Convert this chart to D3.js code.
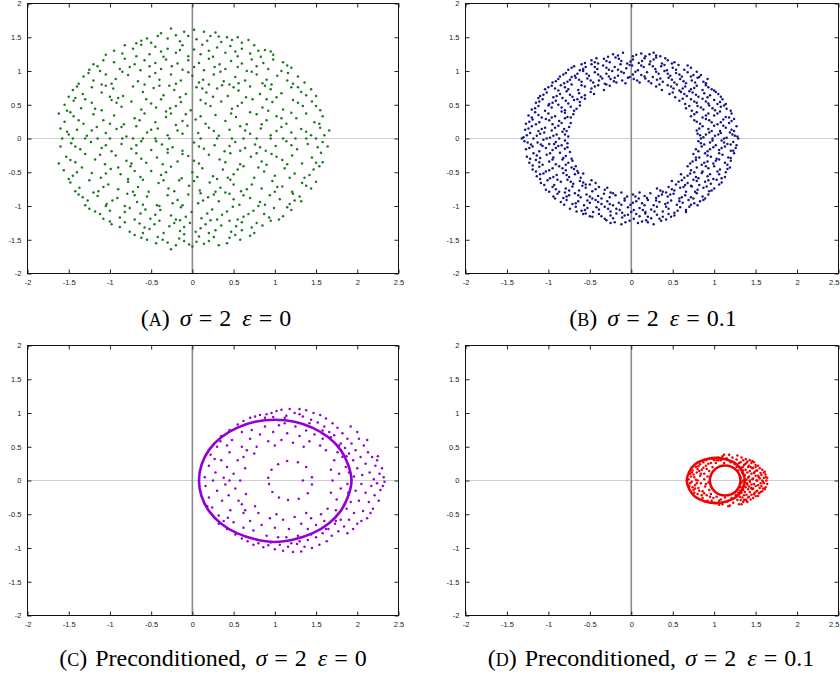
<!DOCTYPE html>
<html>
<head>
<meta charset="utf-8">
<script src="https://cdn.jsdelivr.net/npm/d3@7"></script>
<style>
  body { margin: 0; background: #fff; }
  svg { display: block; }
</style>
</head>
<body>
<svg id="fig" width="840" height="682"></svg>
<script>
// Axis ticks shared by all four panels
const xTickValues = [-2, -1.5, -1, -0.5, 0, 0.5, 1, 1.5, 2, 2.5];
const yTickValues = [-2, -1.5, -1, -0.5, 0, 0.5, 1, 1.5, 2];

// (a) sigma = 2, eps = 0
const dotsA = [
[-0.26,1.63],[0.02,1.61],[-0.1,1.58],[0.14,1.58],[-0.55,1.48],[-0.42,1.52],[0.28,1.57],[0.42,1.5],[0.55,1.5],[-0.68,1.41],[0.68,1.46],[-0.3,1.48],[0.18,1.45],[-0.15,1.44],[0.35,1.43],[0.05,1.47],[-0.5,1.42],[0.6,1.42],
[-0.38,1.56],[0.22,1.52],[-0.05,1.52],[0.48,1.46],[-0.62,1.45],[-0.2,1.53],[0.32,1.51],
[-0.82,1.38],[-0.95,1.3],[-0.62,1.39],[-0.45,1.36],[-0.3,1.33],[-0.12,1.38],[0.02,1.32],[0.12,1.39],[0.3,1.35],[0.46,1.37],[0.6,1.33],[0.75,1.38],[0.88,1.31],[-1.05,1.24],[-0.85,1.26],[-0.68,1.22],[-0.52,1.25],[-0.35,1.21],[-0.2,1.27],[-0.05,1.22],[0.1,1.25],[0.25,1.21],[0.4,1.27],[0.55,1.22],[0.7,1.26],[0.83,1.21],[0.98,1.24],
[-0.72,1.33],[-0.38,1.29],[0.2,1.3],[0.52,1.29],[0.8,1.3],[-0.15,1.31],[0.95,1.29],
[-1.2,1.1],[-1.08,1.16],[-0.95,1.13],[-0.82,1.18],[-0.7,1.1],[-0.58,1.16],[-0.45,1.12],[-0.32,1.17],[-0.18,1.11],[-0.05,1.16],[0.08,1.12],[0.2,1.18],[0.33,1.1],[0.47,1.15],[0.6,1.11],[0.72,1.17],[0.86,1.12],[0.98,1.17],[1.1,1.13],[1.2,1.05],[-1.25,1.02],[-1.12,1.0],[-0.88,1.03],[-0.63,1.01],[-0.38,1.03],[-0.12,1.02],[0.14,1.01],[0.4,1.03],[0.66,1.0],[0.92,1.03],[1.08,1.0],
[-1.15,1.07],[-0.76,1.06],[-0.25,1.07],[0.27,1.06],[0.78,1.07],[1.15,1.08],[0.02,1.06],[-0.52,1.07],[0.55,1.06],
[-1.32,0.92],[-1.2,0.86],[-1.05,0.95],[-0.93,0.88],[-0.78,0.94],[-0.66,0.85],[-0.52,0.92],[-0.4,0.87],[-0.26,0.95],[-0.14,0.86],[0.0,0.93],[0.13,0.87],[0.26,0.95],[0.38,0.85],[0.52,0.91],[0.64,0.86],[0.78,0.95],[0.9,0.87],[1.03,0.93],[1.15,0.86],[1.28,0.92],[1.36,0.83],[-1.38,0.81],[-0.98,0.81],[-0.58,0.8],[-0.2,0.81],[0.2,0.8],[0.56,0.82],[0.96,0.8],[1.22,0.81],
[-1.26,0.97],[-0.85,0.99],[-0.45,0.97],[-0.05,0.98],[0.34,0.99],[0.72,0.99],[1.16,0.97],[-1.1,0.8],[0.08,0.83],[0.45,0.8],[0.85,0.82],
[-1.45,0.72],[-1.33,0.66],[-1.22,0.76],[-1.1,0.68],[-0.96,0.74],[-0.84,0.63],[-0.72,0.77],[-0.6,0.69],[-0.47,0.75],[-0.35,0.64],[-0.22,0.72],[-0.08,0.66],[0.05,0.76],[0.17,0.68],[0.3,0.74],[0.43,0.63],[0.56,0.71],[0.7,0.77],[0.82,0.66],[0.95,0.73],[1.08,0.67],[1.2,0.76],[1.32,0.69],[1.44,0.73],[1.5,0.63],[-1.5,0.62],[-1.0,0.62],[-0.4,0.78],[0.36,0.79],[1.02,0.61],
[-1.4,0.77],[-1.05,0.78],[-0.28,0.78],[0.12,0.74],[0.5,0.76],[0.88,0.78],[1.28,0.76],[1.38,0.64],[-1.42,0.6],[-0.9,0.6],[-0.15,0.61],[0.25,0.62],[0.65,0.61],
[-1.55,0.5],[-1.44,0.56],[-1.35,0.45],[-1.22,0.53],[-1.1,0.42],[-0.98,0.57],[-0.86,0.47],[-0.74,0.55],[-0.62,0.43],[-0.5,0.52],[-0.38,0.58],[-0.27,0.45],[-0.14,0.54],[-0.02,0.42],[0.1,0.57],[0.22,0.48],[0.35,0.55],[0.48,0.44],[0.6,0.53],[0.73,0.58],[0.85,0.46],[0.97,0.54],[1.1,0.43],[1.22,0.57],[1.34,0.48],[1.45,0.55],[1.55,0.42],[-1.52,0.41],[0.92,0.41],[-0.32,0.4],
[-1.3,0.58],[-0.92,0.53],[-0.56,0.58],[-0.2,0.48],[0.16,0.52],[0.55,0.48],[0.9,0.58],[1.28,0.53],[1.5,0.48],[-1.18,0.44],[-0.44,0.46],
[-1.62,0.37],[-1.55,0.25],[-1.44,0.33],[-1.32,0.22],[-1.2,0.36],[-1.08,0.27],[-0.95,0.34],[-0.83,0.21],[-0.7,0.3],[-0.58,0.37],[-0.45,0.24],[-0.32,0.32],[-0.2,0.2],[-0.08,0.36],[0.04,0.28],[0.16,0.22],[0.28,0.35],[0.4,0.26],[0.53,0.32],[0.66,0.21],[0.78,0.36],[0.9,0.27],[1.02,0.33],[1.14,0.22],[1.26,0.3],[1.38,0.37],[1.48,0.24],[1.58,0.33],[-1.48,0.39],[0.7,0.39],
[-1.38,0.27],[-1.0,0.22],[-0.64,0.27],[-0.26,0.37],[0.1,0.33],[0.47,0.37],[0.84,0.21],[1.2,0.38],[1.54,0.22],[-0.12,0.26],[1.08,0.3],
[-1.6,0.15],[-1.5,0.06],[-1.4,0.13],[-1.28,0.04],[-1.16,0.17],[-1.05,0.08],[-0.92,0.14],[-0.8,0.03],[-0.68,0.18],[-0.55,0.09],[-0.42,0.15],[-0.3,0.05],[-0.18,0.12],[-0.06,0.19],[0.07,0.08],[0.2,0.16],[0.32,0.04],[0.45,0.13],[0.58,0.18],[0.7,0.07],[0.83,0.15],[0.95,0.05],[1.08,0.17],[1.2,0.09],[1.32,0.14],[1.44,0.05],[1.55,0.16],[1.66,0.12],
[-1.52,0.1],[-1.22,0.12],[-0.86,0.17],[-0.5,0.13],[-0.12,0.07],[0.26,0.11],[0.64,0.12],[1.02,0.11],[1.38,0.1],[1.6,0.05],
[-1.58,0],[-1.45,0],[-1.3,0],[-1.15,0],[-1.0,0],[-0.85,0],[-0.72,0],[-0.6,0],[-0.45,0],[-0.28,0],[0.1,0],[0.3,0],[0.48,0],[0.62,0],[0.78,0],[0.95,0],[1.1,0],[1.25,0],[1.38,0],[1.5,0],
[-1.6,-0.12],[-1.47,-0.07],[-1.36,-0.16],[-1.23,-0.05],[-1.1,-0.14],[-0.98,-0.19],[-0.86,-0.08],[-0.74,-0.15],[-0.62,-0.04],[-0.5,-0.17],[-0.37,-0.09],[-0.24,-0.13],[-0.12,-0.18],[0.02,-0.06],[0.14,-0.15],[0.27,-0.1],[0.39,-0.19],[0.52,-0.05],[0.64,-0.14],[0.76,-0.09],[0.89,-0.18],[1.01,-0.11],[1.14,-0.04],[1.27,-0.16],[1.4,-0.08],[1.52,-0.13],[1.64,-0.12],
[-1.42,-0.12],[-1.05,-0.1],[-0.68,-0.1],[-0.3,-0.16],[0.08,-0.12],[0.45,-0.11],[0.82,-0.13],[1.2,-0.1],[1.58,-0.05],[-0.44,-0.04],[0.58,-0.18],
[-1.62,-0.37],[-1.53,-0.27],[-1.42,-0.35],[-1.3,-0.23],[-1.18,-0.31],[-1.06,-0.38],[-0.93,-0.25],[-0.8,-0.33],[-0.68,-0.22],[-0.56,-0.36],[-0.43,-0.28],[-0.3,-0.21],[-0.18,-0.34],[-0.05,-0.26],[0.08,-0.37],[0.2,-0.24],[0.33,-0.31],[0.46,-0.22],[0.58,-0.38],[0.71,-0.27],[0.84,-0.34],[0.96,-0.23],[1.09,-0.32],[1.21,-0.25],[1.33,-0.37],[1.45,-0.28],[1.56,-0.21],[1.58,-0.35],[-0.62,-0.3],[0.9,-0.39],
[-1.48,-0.32],[-1.12,-0.24],[-0.74,-0.37],[-0.36,-0.38],[0.02,-0.33],[0.4,-0.35],[0.78,-0.22],[1.15,-0.38],[1.5,-0.36],[-0.12,-0.23],[1.02,-0.27],
[-1.56,-0.47],[-1.45,-0.55],[-1.34,-0.43],[-1.22,-0.51],[-1.11,-0.58],[-0.99,-0.45],[-0.87,-0.53],[-0.75,-0.41],[-0.63,-0.57],[-0.5,-0.48],[-0.38,-0.54],[-0.26,-0.42],[-0.13,-0.59],[0.0,-0.5],[0.12,-0.44],[0.25,-0.56],[0.37,-0.46],[0.5,-0.53],[0.62,-0.41],[0.75,-0.58],[0.87,-0.49],[1.0,-0.55],[1.12,-0.44],[1.24,-0.52],[1.36,-0.58],[1.47,-0.46],[1.54,-0.41],[-1.5,-0.6],[0.3,-0.6],[-0.78,-0.6],
[-1.4,-0.5],[-1.05,-0.52],[-0.7,-0.48],[-0.32,-0.5],[0.06,-0.57],[0.43,-0.58],[0.8,-0.43],[1.18,-0.58],[1.42,-0.54],[-0.9,-0.43],[0.55,-0.46],
[-1.48,-0.65],[-1.37,-0.73],[-1.25,-0.62],[-1.14,-0.78],[-1.02,-0.68],[-0.9,-0.75],[-0.78,-0.64],[-0.66,-0.72],[-0.53,-0.79],[-0.41,-0.66],[-0.29,-0.74],[-0.16,-0.62],[-0.04,-0.7],[0.09,-0.77],[0.21,-0.65],[0.34,-0.73],[0.46,-0.61],[0.59,-0.78],[0.72,-0.68],[0.84,-0.74],[0.97,-0.63],[1.09,-0.71],[1.21,-0.79],[1.33,-0.66],[1.44,-0.74],[1.5,-0.64],[-1.2,-0.8],[0.4,-0.8],[-0.6,-0.61],[1.0,-0.79],
[-1.42,-0.78],[-1.08,-0.72],[-0.72,-0.79],[-0.35,-0.62],[0.02,-0.63],[0.28,-0.79],[0.66,-0.75],[1.03,-0.72],[1.38,-0.7],[-0.22,-0.78],[0.5,-0.68],
[-1.38,-0.83],[-1.27,-0.92],[-1.15,-0.85],[-1.04,-0.97],[-0.91,-0.88],[-0.79,-0.82],[-0.67,-0.94],[-0.55,-0.86],[-0.43,-0.99],[-0.3,-0.84],[-0.18,-0.91],[-0.05,-0.83],[0.07,-0.96],[0.19,-0.87],[0.32,-0.93],[0.45,-0.82],[0.57,-0.98],[0.7,-0.88],[0.82,-0.94],[0.94,-0.84],[1.06,-0.9],[1.18,-0.97],[1.3,-0.86],[1.32,-0.93],[-1.3,-0.99],[-0.82,-1.0],[0.1,-0.81],[0.62,-0.84],[1.22,-0.82],[-0.12,-0.99],
[-1.33,-0.87],[-0.97,-0.92],[-0.6,-0.98],[-0.24,-0.96],[0.13,-0.92],[0.5,-0.9],[0.88,-0.98],[1.24,-0.92],[-0.7,-0.84],[0.26,-0.83],
[-1.25,-1.04],[-1.12,-1.12],[-1.0,-1.07],[-0.88,-1.17],[-0.76,-1.03],[-0.63,-1.11],[-0.51,-1.19],[-0.39,-1.06],[-0.26,-1.14],[-0.14,-1.02],[-0.01,-1.09],[0.11,-1.18],[0.24,-1.05],[0.36,-1.13],[0.49,-1.01],[0.62,-1.16],[0.74,-1.07],[0.87,-1.12],[0.99,-1.03],[1.1,-1.15],[1.2,-1.06],[-1.08,-1.19],[-0.7,-1.2],[0.3,-1.2],[0.8,-1.0],[-0.4,-1.0],[1.05,-1.2],[-1.05,-1.0],[0.55,-1.2],[-0.2,-1.2],
[-1.18,-1.08],[-0.82,-1.09],[-0.45,-1.13],[-0.08,-1.16],[0.18,-1.11],[0.42,-1.08],[0.68,-1.12],[0.93,-1.17],[1.15,-1.02],[-0.57,-1.05],
[-1.0,-1.23],[-0.88,-1.31],[-0.76,-1.38],[-0.64,-1.26],[-0.52,-1.34],[-0.4,-1.22],[-0.28,-1.3],[-0.15,-1.37],[-0.03,-1.25],[0.1,-1.33],[0.22,-1.21],[0.35,-1.29],[0.47,-1.38],[0.6,-1.24],[0.72,-1.32],[0.85,-1.29],[0.95,-1.22],[0.6,-1.36],[-0.98,-1.27],[-0.35,-1.4],[0.2,-1.4],[0.75,-1.4],[-0.6,-1.4],[0.45,-1.22],[-0.15,-1.21],
[-0.82,-1.24],[-0.46,-1.27],[-0.22,-1.25],[0.04,-1.38],[0.28,-1.36],[0.53,-1.3],[0.78,-1.25],[-0.58,-1.32],[-0.1,-1.31],[0.16,-1.27],
[-0.7,-1.43],[-0.55,-1.5],[-0.42,-1.46],[-0.3,-1.54],[-0.16,-1.48],[-0.04,-1.57],[0.0,-1.6],[0.08,-1.45],[0.2,-1.52],[0.32,-1.58],[0.45,-1.47],[0.58,-1.5],[0.7,-1.44],[-0.26,-1.64],[0.14,-1.56],[-0.44,-1.55],[0.42,-1.55],[-0.1,-1.42],
[-0.62,-1.47],[-0.36,-1.5],[-0.1,-1.52],[0.26,-1.46],[0.52,-1.43],[0.05,-1.53],[-0.2,-1.58]
];

// (b) sigma = 2, eps = 0.1
const dotsB = [
[-1.3,0.02],[-1.22,0.08],[-1.14,0.04],[-1.05,0.09],[-0.98,0.01],[-0.9,0.06],[-0.83,0.1],[-0.76,0.03],[0.8,0.07],[0.87,0.02],[0.94,0.09],[1.01,0.04],[1.08,0.08],[1.15,0.01],[1.22,0.06],[1.28,0.03],
[-1.26,0.05],[-1.1,0.07],[-0.94,0.04],[-0.8,0.06],[0.83,0.05],[0.9,0.06],[1.05,0.06],[1.19,0.09],[1.25,0.04],
[-1.32,0],[-1.18,0],[-1.02,0],[-0.87,0],[0.84,0],[0.98,0],[1.12,0],[1.29,0],
[-1.28,0.13],[-1.2,0.18],[-1.12,0.11],[-1.04,0.16],[-0.96,0.12],[-0.88,0.19],[-0.81,0.14],[-0.75,0.17],[0.79,0.12],[0.86,0.18],[0.93,0.14],[1.0,0.19],[1.07,0.11],[1.14,0.16],[1.21,0.13],[1.27,0.18],
[-1.24,0.15],[-1.08,0.14],[-0.92,0.16],[-0.78,0.11],[0.82,0.15],[0.97,0.11],[1.11,0.19],[1.24,0.11],
[-1.27,0.22],[-1.19,0.28],[-1.11,0.24],[-1.03,0.29],[-0.95,0.21],[-0.87,0.26],[-0.8,0.3],[-0.73,0.23],[-1.23,0.25],[0.76,0.27],[0.83,0.22],[0.9,0.29],[0.97,0.24],[1.04,0.21],[1.11,0.28],[1.18,0.23],[1.24,0.29],
[-1.15,0.21],[-0.99,0.27],[-0.84,0.23],[0.79,0.25],[0.94,0.27],[1.08,0.24],[1.21,0.26],
[-1.24,0.34],[-1.16,0.39],[-1.08,0.31],[-1.0,0.37],[-0.92,0.33],[-0.84,0.4],[-0.77,0.32],[-0.7,0.36],[-1.2,0.31],[0.72,0.33],[0.79,0.39],[0.86,0.31],[0.93,0.37],[1.0,0.34],[1.07,0.4],[1.14,0.32],[1.21,0.37],
[-1.12,0.35],[-0.96,0.31],[-0.8,0.38],[-0.73,0.31],[0.76,0.36],[0.9,0.34],[1.04,0.37],[1.18,0.31],
[-1.2,0.43],[-1.12,0.48],[-1.04,0.41],[-0.96,0.46],[-0.88,0.5],[-0.8,0.42],[-0.73,0.47],[-0.66,0.44],[-0.62,0.49],[0.66,0.45],[0.73,0.41],[0.8,0.48],[0.87,0.43],[0.94,0.49],[1.01,0.42],[1.08,0.47],[1.15,0.44],[1.2,0.41],
[-1.16,0.45],[-1.0,0.49],[-0.84,0.46],[-0.69,0.41],[0.7,0.48],[0.84,0.46],[0.98,0.45],[1.12,0.49],
[-1.15,0.53],[-1.07,0.58],[-0.99,0.51],[-0.91,0.56],[-0.83,0.6],[-0.76,0.52],[-0.69,0.57],[-0.62,0.54],[-0.56,0.59],[-1.12,0.6],[0.58,0.56],[0.65,0.51],[0.72,0.58],[0.79,0.53],[0.86,0.59],[0.93,0.52],[1.0,0.57],[1.07,0.54],[1.14,0.51],
[-1.11,0.55],[-0.95,0.53],[-0.79,0.56],[-0.65,0.58],[0.62,0.59],[0.76,0.55],[0.9,0.55],[1.04,0.51],[1.1,0.58],
[-1.1,0.63],[-1.02,0.68],[-0.94,0.61],[-0.86,0.66],[-0.78,0.7],[-0.71,0.62],[-0.63,0.67],[-0.56,0.64],[-0.49,0.69],[-0.45,0.66],[0.46,0.66],[0.53,0.61],[0.6,0.69],[0.67,0.63],[0.74,0.68],[0.81,0.62],[0.88,0.67],[0.95,0.64],[1.02,0.69],[1.08,0.62],[0.7,0.7],
[-1.06,0.65],[-0.9,0.63],[-0.74,0.65],[-0.6,0.61],[0.5,0.68],[0.64,0.66],[0.78,0.65],[0.92,0.61],[1.05,0.66],
[-1.04,0.73],[-0.96,0.78],[-0.88,0.71],[-0.8,0.76],[-0.72,0.8],[-0.64,0.72],[-0.56,0.77],[-0.48,0.74],[-0.4,0.79],[-0.33,0.72],[-0.26,0.78],[-0.85,0.79],[0.3,0.77],[0.37,0.72],[0.44,0.79],[0.51,0.74],[0.58,0.71],[0.65,0.77],[0.72,0.73],[0.79,0.78],[0.86,0.72],[0.93,0.76],[1.0,0.71],[0.55,0.8],
[-1.0,0.76],[-0.92,0.74],[-0.76,0.73],[-0.6,0.79],[-0.44,0.77],[-0.3,0.8],[0.34,0.8],[0.48,0.77],[0.62,0.74],[0.76,0.75],[0.9,0.79],[0.97,0.73],
[-0.95,0.83],[-0.88,0.88],[-0.81,0.82],[-0.74,0.87],[-0.67,0.9],[-0.6,0.84],[-0.53,0.89],[-0.46,0.83],[-0.39,0.86],[-0.32,0.81],[-0.25,0.88],[-0.18,0.83],[-0.11,0.86],[-0.04,0.9],[0.03,0.88],[0.1,0.83],[0.17,0.89],[0.24,0.82],[0.31,0.87],[0.38,0.84],[0.45,0.9],[0.52,0.83],[0.59,0.88],[0.66,0.82],[0.73,0.86],[0.8,0.9],[0.87,0.84],[0.92,0.88],[-0.2,0.9],
[-0.91,0.85],[-0.77,0.84],[-0.63,0.87],[-0.49,0.86],[-0.35,0.89],[-0.21,0.85],[-0.07,0.82],[0.07,0.86],[0.21,0.85],[0.35,0.89],[0.49,0.87],[0.63,0.85],[0.77,0.83],[0.9,0.82],
[-0.86,0.92],[-0.79,0.97],[-0.72,0.91],[-0.65,0.96],[-0.58,1.0],[-0.51,0.93],[-0.44,0.98],[-0.37,0.92],[-0.3,0.96],[-0.23,1.0],[-0.16,0.93],[-0.09,0.97],[-0.02,0.91],[0.05,0.99],[0.12,0.94],[0.19,0.98],[0.26,0.91],[0.33,0.96],[0.4,1.0],[0.47,0.93],[0.54,0.97],[0.61,0.92],[0.68,0.98],[0.75,0.94],[0.82,0.91],[0.84,0.94],
[-0.82,0.95],[-0.68,0.93],[-0.54,0.96],[-0.4,0.95],[-0.27,0.92],[-0.12,0.99],[0.02,0.95],[0.16,0.92],[0.3,0.99],[0.44,0.96],[0.58,0.95],[0.72,0.92],[0.79,0.99],
[-0.76,1.02],[-0.69,1.07],[-0.62,1.01],[-0.55,1.06],[-0.48,1.1],[-0.41,1.03],[-0.34,1.08],[-0.27,1.02],[-0.2,1.06],[-0.13,1.1],[-0.06,1.04],[0.01,1.08],[0.08,1.01],[0.15,1.06],[0.22,1.1],[0.29,1.03],[0.36,1.07],[0.43,1.01],[0.5,1.05],[0.57,1.09],[0.64,1.02],[0.72,1.05],
[-0.72,1.05],[-0.58,1.03],[-0.44,1.06],[-0.3,1.05],[-0.16,1.02],[-0.02,1.09],[0.12,1.08],[0.26,1.07],[0.4,1.09],[0.54,1.02],[0.68,1.08],
[-0.56,1.12],[-0.48,1.16],[-0.4,1.11],[-0.33,1.18],[-0.26,1.13],[-0.19,1.2],[-0.12,1.15],[-0.05,1.11],[0.02,1.17],[0.09,1.12],[0.16,1.19],[0.23,1.14],[0.3,1.2],[0.37,1.11],[0.44,1.16],[0.52,1.13],[-0.6,1.1],
[-0.42,1.19],[-0.44,1.13],[-0.3,1.15],[-0.15,1.18],[-0.01,1.14],[0.13,1.15],[0.27,1.17],[0.41,1.19],[0.49,1.11],
[-0.28,1.21],[-0.16,1.23],[-0.1,1.27],[0.02,1.22],[0.12,1.26],[0.17,1.22],[0.27,1.27],[0.35,1.22],[-0.22,1.25],[0.06,1.24],[0.22,1.25],[0.3,1.23],
[-1.29,-0.04],[-1.21,-0.09],[-1.13,-0.06],[-1.06,-0.02],[-0.99,-0.08],[-0.91,-0.05],[-0.84,-0.1],[-0.77,-0.07],[0.81,-0.04],[0.88,-0.09],[0.95,-0.06],[1.02,-0.1],[1.09,-0.03],[1.16,-0.08],[1.23,-0.05],[1.27,-0.1],
[-1.25,-0.06],[-1.09,-0.09],[-0.93,-0.08],[-0.8,-0.03],[0.84,-0.07],[0.98,-0.03],[1.12,-0.06],[1.2,-0.09],
[-1.27,-0.16],[-1.19,-0.12],[-1.11,-0.19],[-1.03,-0.14],[-0.95,-0.17],[-0.88,-0.11],[-0.8,-0.15],[-0.74,-0.2],[0.78,-0.16],[0.85,-0.12],[0.92,-0.19],[0.99,-0.13],[1.06,-0.17],[1.13,-0.12],[1.2,-0.18],[1.26,-0.14],
[-1.23,-0.14],[-1.07,-0.11],[-0.91,-0.14],[-0.77,-0.13],[0.81,-0.19],[0.95,-0.16],[1.09,-0.14],[1.23,-0.18],
[-1.26,-0.27],[-1.18,-0.22],[-1.1,-0.29],[-1.02,-0.24],[-0.94,-0.28],[-0.86,-0.21],[-0.79,-0.26],[-0.72,-0.3],[-1.22,-0.3],[0.75,-0.23],[0.82,-0.28],[0.89,-0.22],[0.96,-0.27],[1.03,-0.3],[1.1,-0.24],[1.17,-0.28],[1.24,-0.22],
[-1.14,-0.25],[-0.98,-0.22],[-0.82,-0.29],[0.78,-0.28],[0.92,-0.25],[1.06,-0.22],[1.2,-0.29],
[-1.23,-0.36],[-1.15,-0.32],[-1.07,-0.39],[-0.99,-0.34],[-0.91,-0.38],[-0.83,-0.31],[-0.76,-0.36],[-0.71,-0.33],[-1.19,-0.4],[0.71,-0.37],[0.78,-0.32],[0.85,-0.39],[0.92,-0.34],[0.99,-0.37],[1.06,-0.31],[1.13,-0.36],[1.2,-0.33],
[-1.11,-0.35],[-0.95,-0.31],[-0.79,-0.39],[0.74,-0.34],[0.88,-0.36],[1.02,-0.33],[1.16,-0.39],
[-1.19,-0.46],[-1.11,-0.42],[-1.03,-0.49],[-0.95,-0.44],[-0.87,-0.41],[-0.79,-0.47],[-0.72,-0.43],[-0.65,-0.48],[-0.67,-0.41],[0.68,-0.41],[0.72,-0.47],[0.79,-0.43],[0.86,-0.49],[0.93,-0.44],[1.0,-0.41],[1.07,-0.46],[1.14,-0.5],[1.19,-0.43],
[-1.15,-0.49],[-0.99,-0.47],[-0.83,-0.44],[-0.69,-0.45],[0.76,-0.5],[0.9,-0.41],[1.04,-0.49],[1.16,-0.45],
[-1.14,-0.56],[-1.06,-0.52],[-0.98,-0.59],[-0.9,-0.54],[-0.82,-0.51],[-0.75,-0.57],[-0.68,-0.53],[-0.61,-0.58],[-0.58,-0.52],[-1.1,-0.6],[0.6,-0.53],[0.64,-0.58],[0.71,-0.52],[0.78,-0.57],[0.85,-0.51],[0.92,-0.56],[0.99,-0.6],[1.06,-0.53],[1.13,-0.57],
[-1.1,-0.53],[-0.94,-0.57],[-0.78,-0.54],[-0.64,-0.51],[0.68,-0.55],[0.81,-0.59],[0.95,-0.53],[1.09,-0.59],
[-1.09,-0.66],[-1.01,-0.62],[-0.93,-0.69],[-0.85,-0.64],[-0.77,-0.61],[-0.7,-0.67],[-0.62,-0.63],[-0.55,-0.68],[-0.48,-0.62],[-0.43,-0.66],[0.49,-0.63],[0.54,-0.68],[0.61,-0.62],[0.68,-0.66],[0.75,-0.61],[0.82,-0.69],[0.89,-0.64],[0.96,-0.67],[1.03,-0.61],[1.09,-0.65],[0.72,-0.7],
[-1.05,-0.69],[-0.89,-0.61],[-0.73,-0.64],[-0.58,-0.65],[-0.5,-0.68],[0.57,-0.64],[0.65,-0.69],[0.79,-0.63],[0.93,-0.62],[1.06,-0.68],
[-1.03,-0.76],[-0.95,-0.72],[-0.87,-0.79],[-0.79,-0.74],[-0.71,-0.71],[-0.63,-0.77],[-0.55,-0.73],[-0.47,-0.78],[-0.39,-0.72],[-0.32,-0.76],[-0.25,-0.8],[-0.8,-0.8],[0.31,-0.74],[0.38,-0.79],[0.45,-0.72],[0.52,-0.77],[0.59,-0.73],[0.66,-0.79],[0.73,-0.71],[0.8,-0.76],[0.87,-0.73],[0.94,-0.78],[1.0,-0.74],[0.42,-0.8],
[-0.99,-0.79],[-0.91,-0.75],[-0.75,-0.77],[-0.59,-0.7],[-0.43,-0.75],[-0.29,-0.73],[0.35,-0.77],[0.49,-0.75],[0.63,-0.72],[0.77,-0.79],[0.91,-0.71],[0.97,-0.77],
[-0.94,-0.86],[-0.89,-0.82],[-0.82,-0.88],[-0.75,-0.84],[-0.68,-0.81],[-0.61,-0.87],[-0.54,-0.83],[-0.47,-0.89],[-0.4,-0.85],[-0.33,-0.82],[-0.26,-0.87],[-0.19,-0.84],[-0.12,-0.8],[-0.05,-0.86],[0.02,-0.83],[0.09,-0.89],[0.16,-0.85],[0.23,-0.81],[0.3,-0.88],[0.37,-0.83],[0.44,-0.86],[0.51,-0.82],[0.58,-0.89],[0.65,-0.84],[0.72,-0.87],[0.79,-0.81],[0.86,-0.86],[0.93,-0.83],[0.1,-0.8],
[-0.92,-0.89],[-0.78,-0.86],[-0.64,-0.84],[-0.5,-0.86],[-0.36,-0.89],[-0.22,-0.81],[-0.08,-0.89],[0.05,-0.86],[0.19,-0.88],[0.33,-0.85],[0.47,-0.83],[0.61,-0.87],[0.75,-0.89],[0.89,-0.89],
[-0.85,-0.94],[-0.78,-0.91],[-0.71,-0.97],[-0.64,-0.93],[-0.57,-0.99],[-0.5,-0.95],[-0.43,-0.91],[-0.36,-0.97],[-0.29,-0.93],[-0.22,-0.99],[-0.15,-0.95],[-0.08,-0.92],[-0.01,-0.98],[0.06,-0.93],[0.13,-0.96],[0.2,-0.91],[0.27,-0.99],[0.34,-0.94],[0.41,-0.97],[0.48,-0.92],[0.55,-0.98],[0.62,-0.95],[0.69,-0.91],[0.76,-0.96],[0.83,-0.93],[0.8,-0.99],
[-0.81,-0.98],[-0.67,-0.96],[-0.53,-0.92],[-0.4,-0.94],[-0.26,-0.97],[-0.12,-0.98],[0.02,-0.95],[0.16,-0.99],[0.3,-0.92],[0.44,-0.95],[0.58,-0.93],[0.72,-0.98],[0.87,-0.91],
[-0.74,-1.04],[-0.67,-1.01],[-0.6,-1.07],[-0.53,-1.03],[-0.46,-1.09],[-0.39,-1.05],[-0.32,-1.01],[-0.25,-1.08],[-0.18,-1.04],[-0.11,-1.1],[-0.04,-1.02],[0.03,-1.06],[0.1,-1.03],[0.17,-1.09],[0.24,-1.05],[0.31,-1.01],[0.38,-1.08],[0.45,-1.04],[0.52,-1.1],[0.59,-1.02],[0.66,-1.06],[0.7,-1.01],
[-0.66,-1.08],[-0.56,-1.06],[-0.42,-1.02],[-0.28,-1.04],[-0.14,-1.06],[0.0,-1.09],[0.14,-1.06],[0.28,-1.08],[0.42,-1.01],[0.56,-1.07],[0.66,-1.09],
[-0.55,-1.11],[-0.47,-1.16],[-0.39,-1.12],[-0.32,-1.19],[-0.25,-1.14],[-0.18,-1.11],[-0.11,-1.17],[-0.04,-1.13],[0.03,-1.19],[0.1,-1.15],[0.17,-1.11],[0.24,-1.18],[0.31,-1.13],[0.38,-1.16],[0.45,-1.12],[0.52,-1.14],[-0.58,-1.12],
[-0.5,-1.15],[-0.36,-1.15],[-0.22,-1.18],[-0.08,-1.14],[0.06,-1.12],[0.2,-1.16],[0.34,-1.19],[0.48,-1.16],[0.42,-1.2],
[-0.3,-1.21],[-0.2,-1.24],[-0.12,-1.27],[-0.02,-1.22],[0.08,-1.25],[0.18,-1.21],[0.27,-1.27],[0.36,-1.22],[-0.25,-1.25],[-0.07,-1.24],[0.13,-1.23],[0.2,-1.24]
];

// (c) preconditioned, sigma = 2, eps = 0
const dotsC = [
[0.92,0.04],[0.93,-0.05],[0.96,0.16],[0.97,-0.17],[1.04,0.24],[1.05,-0.25],[1.15,0.29],[1.16,-0.29],[1.28,0.27],[1.29,-0.27],[1.38,0.2],[1.4,-0.19],[1.45,0.05],[1.45,-0.06],[1.34,0.0],
[0.15,0.05],[0.16,-0.08],[0.2,0.22],[0.2,-0.25],[0.22,0.38],[0.24,-0.4],[0.25,0.0],[0.28,0.12],[0.3,-0.15],[0.3,0.5],[0.32,-0.52],[0.35,0.3],[0.36,-0.3],[0.38,0.04],[0.4,-0.06],[0.42,0.2],[0.44,-0.22],[0.45,0.42],[0.46,-0.44],[0.48,0.6],[0.5,-0.62],[0.5,0.1],[0.52,-0.12],[0.55,0.3],[0.56,-0.3],[0.58,0.0],[0.6,0.5],[0.62,-0.48],[0.64,0.18],[0.65,-0.2],[0.27,0.32],[0.18,-0.38],[0.34,0.58],[0.38,-0.6],[0.45,0.0],[0.62,0.35],[0.6,-0.35],[0.42,0.52],[0.43,-0.55],
[0.7,0.62],[0.72,0.75],[0.78,0.5],[0.82,0.68],[0.88,0.8],[0.92,0.58],[0.98,0.72],[1.05,0.82],[1.08,0.6],[1.15,0.7],[1.22,0.56],[1.25,0.8],[1.3,0.66],[1.38,0.74],[1.42,0.58],[1.48,0.68],[1.55,0.52],[1.58,0.62],[0.66,0.45],[0.75,0.4],[1.0,0.52],[1.35,0.5],[1.62,0.45],[1.12,0.85],[0.6,0.72],
[0.7,-0.6],[0.74,-0.74],[0.8,-0.48],[0.84,-0.66],[0.9,-0.82],[0.94,-0.56],[1.0,-0.7],[1.04,-0.84],[1.1,-0.58],[1.17,-0.72],[1.24,-0.54],[1.28,-0.82],[1.32,-0.64],[1.4,-0.72],[1.44,-0.56],[1.5,-0.66],[1.56,-0.5],[1.6,-0.6],[0.64,-0.44],[0.76,-0.38],[1.02,-0.5],[1.38,-0.48],[1.64,-0.42],[1.14,-0.84],[0.62,-0.7],
[1.72,0.3],[1.75,-0.28],[1.78,0.1],[1.8,-0.12],[1.82,0.35],[1.84,-0.36],[1.86,0.2],[1.88,-0.05],[1.7,0.0],[1.76,0.42],[1.74,-0.44],[1.9,0.12],[1.89,-0.18],[1.68,0.16],[1.68,-0.18],
[0.35,0.66],[0.45,0.75],[0.55,0.83],[0.62,0.88],[0.7,0.93],[0.76,0.95],[0.82,0.97],[0.9,0.98],[0.96,1.0],[1.02,1.03],[1.08,1.05],[1.14,0.96],[1.18,1.06],[1.24,1.0],[1.3,1.06],[1.34,0.95],[1.38,1.04],[1.44,0.9],[1.47,1.0],[1.52,0.86],[1.55,0.97],[1.6,0.8],[1.62,0.92],[1.66,0.72],[1.7,0.85],[1.72,0.67],[1.76,0.78],[1.8,0.55],[1.82,0.7],[1.85,0.48],[1.88,0.62],[1.9,0.4],[1.93,0.55],[1.95,0.3],[1.98,0.45],[2.0,0.18],[2.02,0.62],[2.04,0.35],[2.06,0.08],[2.08,0.52],[2.1,0.25],[2.13,0.42],[2.15,0.12],[2.18,0.35],[2.2,0.02],[2.22,0.22],[2.25,0.36],[2.27,0.1],[2.3,0.18],[2.32,0.05],[1.96,0.06],[2.12,0.6],[1.58,0.74],[1.68,0.64],[1.78,0.52],[1.87,0.36],[1.42,0.85],[1.12,0.93],[0.88,0.93],[2.24,0.3],[1.3,0.98],[0.98,0.94],[2.0,0.72],[1.92,0.8],
[0.32,-0.64],[0.42,-0.72],[0.52,-0.8],[0.6,-0.86],[0.67,-0.9],[0.74,-0.95],[0.8,-0.93],[0.86,-0.99],[0.92,-0.96],[1.0,-1.02],[1.06,-0.95],[1.1,-1.04],[1.16,-0.98],[1.22,-1.06],[1.27,-0.94],[1.32,-1.05],[1.36,-0.98],[1.4,-0.88],[1.45,-1.0],[1.5,-0.84],[1.54,-0.95],[1.58,-0.78],[1.63,-0.9],[1.65,-0.72],[1.69,-0.82],[1.73,-0.64],[1.77,-0.75],[1.8,-0.58],[1.84,-0.68],[1.87,-0.42],[1.9,-0.58],[1.92,-0.32],[1.96,-0.48],[1.98,-0.15],[2.0,-0.64],[2.02,-0.3],[2.05,-0.05],[2.07,-0.45],[2.1,-0.18],[2.12,-0.56],[2.14,-0.32],[2.17,-0.08],[2.19,-0.42],[2.21,-0.22],[2.24,-0.04],[2.26,-0.3],[2.28,-0.14],[2.31,-0.08],[2.33,-0.02],[1.95,-0.72],[2.05,-0.6],[1.44,-0.8],[1.2,-0.93],[0.95,-0.92],[1.74,-0.6],[2.16,-0.48],[1.3,-0.9],[1.62,-0.72],[1.88,-0.78]
];
// closed curve of the densely packed points in (c)
const ringC = [
[1.93,0],[1.89,0.23],[1.8,0.45],[1.65,0.64],[1.46,0.78],[1.24,0.87],[1.0,0.9],[0.76,0.87],[0.54,0.78],[0.35,0.64],[0.2,0.45],[0.11,0.23],[0.08,0],[0.11,-0.23],[0.2,-0.45],[0.35,-0.64],[0.54,-0.78],[0.76,-0.87],[1.0,-0.91],[1.24,-0.87],[1.46,-0.78],[1.65,-0.64],[1.8,-0.45],[1.89,-0.23]
];

// (d) preconditioned, sigma = 2, eps = 0.1
const dotsD = [
[0.69,0.02],[0.7,-0.08],[0.71,0.1],[0.73,-0.02],[0.74,0.15],[0.75,-0.14],[0.76,0.05],[0.77,-0.07],[0.78,0.2],[0.79,0.12],[0.8,-0.2],[0.8,0.0],[0.81,-0.11],[0.83,0.07],[0.83,0.24],[0.84,-0.04],[0.85,0.16],[0.86,-0.16],[0.86,-0.26],[0.88,0.02],[0.88,0.1],[0.89,-0.09],[0.9,0.22],[0.9,0.3],[0.91,-0.22],[0.92,0.06],[0.92,-0.3],[0.93,-0.03],[0.94,0.14],[0.94,-0.14],[0.96,0.26],[0.96,-0.2],[0.98,0.2],[0.98,0.32],[0.99,-0.26],[1.0,-0.33],[1.02,0.26],[1.03,-0.24],[1.05,0.34],[1.06,-0.3],[0.72,0.06],[0.76,-0.18],[0.87,0.19],[0.82,0.14],[0.79,-0.04],
[0.71,-0.04],[0.73,0.12],[0.75,0.09],[0.77,-0.12],[0.78,0.01],[0.8,0.17],[0.82,-0.15],[0.84,0.1],[0.85,-0.22],[0.87,0.27],[0.88,-0.19],[0.9,-0.05],[0.91,0.17],[0.93,0.25],[0.95,-0.24],[0.97,-0.3],[1.0,0.3],[1.03,0.3],[0.74,-0.1],[0.81,0.21],
[1.08,0.3],[1.1,0.36],[1.12,0.26],[1.15,0.33],[1.18,0.38],[1.2,0.27],[1.22,0.34],[1.25,0.24],[1.27,0.31],[1.28,0.37],[1.3,0.2],[1.08,-0.28],[1.1,-0.35],[1.13,-0.25],[1.16,-0.31],[1.19,-0.37],[1.21,-0.26],[1.23,-0.33],[1.26,-0.21],[1.28,-0.29],[1.3,-0.35],[1.31,-0.15],[1.12,0.38],[1.17,-0.38],[1.05,0.3],[1.06,-0.36],
[1.29,0.15],[1.27,0.2],[1.3,0.26],[1.29,-0.18],[1.31,-0.24],[1.27,-0.23],
[1.33,0.34],[1.35,0.3],[1.32,0.27],[1.36,0.23],[1.33,0.19],[1.35,0.15],[1.34,0.11],[1.36,0.07],[1.32,0.04],[1.35,0.0],[1.33,-0.03],[1.36,-0.07],[1.32,-0.1],[1.35,-0.14],[1.33,-0.18],[1.36,-0.22],[1.34,-0.25],[1.32,-0.29],[1.35,-0.32],[1.33,-0.35],
[1.38,0.32],[1.4,0.28],[1.37,0.24],[1.41,0.2],[1.38,0.16],[1.4,0.12],[1.37,0.08],[1.41,0.04],[1.39,0.01],[1.37,-0.02],[1.4,-0.06],[1.38,-0.1],[1.41,-0.13],[1.37,-0.17],[1.39,-0.21],[1.41,-0.25],[1.38,-0.28],[1.4,-0.32],
[1.43,0.3],[1.45,0.26],[1.42,0.22],[1.46,0.18],[1.43,0.14],[1.45,0.1],[1.42,0.06],[1.46,0.02],[1.43,-0.02],[1.45,-0.06],[1.42,-0.09],[1.46,-0.13],[1.43,-0.17],[1.45,-0.21],[1.42,-0.24],[1.44,-0.28],[1.46,0.29],
[1.48,0.27],[1.5,0.23],[1.47,0.19],[1.51,0.15],[1.48,0.11],[1.5,0.07],[1.47,0.03],[1.51,0.0],[1.48,-0.05],[1.5,-0.08],[1.47,-0.12],[1.51,-0.16],[1.48,-0.2],[1.5,-0.23],[1.47,-0.26],
[1.53,0.22],[1.55,0.18],[1.52,0.15],[1.56,0.11],[1.53,0.07],[1.55,0.03],[1.52,0.0],[1.56,-0.04],[1.53,-0.07],[1.55,-0.11],[1.52,-0.15],[1.54,-0.19],[1.53,-0.23],
[1.58,0.16],[1.6,0.12],[1.57,0.08],[1.6,0.04],[1.58,0.0],[1.6,-0.04],[1.57,-0.08],[1.59,-0.12],[1.58,-0.16],
[1.62,0.09],[1.64,0.04],[1.63,0.0],[1.64,-0.05],[1.62,-0.1],[1.61,0.13],[1.61,-0.13],
[1.345,0.2],[1.39,0.26],[1.44,0.2],[1.49,0.13],[1.54,0.05],[1.59,-0.02],[1.395,-0.04],[1.445,-0.11],[1.49,-0.18],[1.345,-0.12],[1.39,-0.3],[1.56,-0.17],[1.5,0.2],[1.62,0.05],[1.43,0.0],[1.36,-0.29]
];
// outer and inner closed curves of densely packed points in (d)
const ringD1 = [
[1.37,0],[1.34,0.13],[1.27,0.24],[1.15,0.31],[1.02,0.335],[0.89,0.31],[0.77,0.24],[0.7,0.13],[0.67,0],[0.7,-0.13],[0.77,-0.24],[0.89,-0.31],[1.02,-0.335],[1.15,-0.31],[1.27,-0.24],[1.34,-0.13]
];
const ringD2 = [
[1.318,0],[1.304,0.085],[1.264,0.157],[1.204,0.205],[1.133,0.222],[1.062,0.205],[1.002,0.157],[0.962,0.085],[0.948,0],[0.962,-0.085],[1.002,-0.157],[1.062,-0.205],[1.133,-0.222],[1.204,-0.205],[1.264,-0.157],[1.304,-0.085]
];

// Sub-figure captions: sequences of text runs
const captionA = [{t:"("},{t:"A",sc:1},{t:")"},{t:"σ",it:1,dx:10},{t:"=",dx:7},{t:"2",dx:7},{t:"ε",it:1,dx:11},{t:"=",dx:7},{t:"0",dx:7}];
const captionB = [{t:"("},{t:"B",sc:1},{t:")"},{t:"σ",it:1,dx:10},{t:"=",dx:7},{t:"2",dx:7},{t:"ε",it:1,dx:11},{t:"=",dx:7},{t:"0.1",dx:7}];
const captionC = [{t:"("},{t:"C",sc:1},{t:")"},{t:"Preconditioned,",dx:8},{t:"σ",it:1,dx:9},{t:"=",dx:7},{t:"2",dx:7},{t:"ε",it:1,dx:11},{t:"=",dx:7},{t:"0",dx:7}];
const captionD = [{t:"("},{t:"D",sc:1},{t:")"},{t:"Preconditioned,",dx:8},{t:"σ",it:1,dx:9},{t:"=",dx:7},{t:"2",dx:7},{t:"ε",it:1,dx:11},{t:"=",dx:7},{t:"0.1",dx:7}];

const panels = [
  {dots: dotsA, rings: [], color: "#1a7a1a", left: 27.5, right: 398.5, top: 3.5, bottom: 273.5, caption: captionA, capX: 216, capY: 326},
  {dots: dotsB, rings: [], color: "#15158c", left: 465.5, right: 838.5, top: 3.5, bottom: 273.5, caption: captionB, capX: 653, capY: 326},
  {dots: dotsC, rings: [ringC], color: "#9400d3", left: 27.5, right: 398.5, top: 345.5, bottom: 615.5, caption: captionC, capX: 213, capY: 666},
  {dots: dotsD, rings: [ringD1, ringD2], color: "#f00000", left: 465.5, right: 838.5, top: 345.5, bottom: 615.5, caption: captionD, capX: 651, capY: 666}
];

const svg = d3.select("#fig");
const width = +svg.attr("width");
const tickFont = "'Liberation Sans', Arial, Helvetica, sans-serif";

panels.forEach(p => {
  const x = d3.scaleLinear().domain([-2, 2.5]).range([p.left, p.right]);
  const y = d3.scaleLinear().domain([-2, 2]).range([p.bottom, p.top]);
  const g = svg.append("g");

  // zero lines
  g.append("line").attr("x1", p.left).attr("x2", p.right).attr("y1", y(0)).attr("y2", y(0))
    .attr("stroke", "#cfcfcf").attr("stroke-width", 1);
  g.append("line").attr("x1", x(0)).attr("x2", x(0)).attr("y1", p.top).attr("y2", p.bottom)
    .attr("stroke", "#8c8c8c").attr("stroke-width", 1.6);

  // points
  g.append("g").selectAll("circle").data(p.dots).join("circle")
    .attr("cx", d => x(d[0])).attr("cy", d => y(d[1])).attr("r", 1.25)
    .attr("fill", p.color);

  // dense point rings
  const line = d3.line().x(d => x(d[0])).y(d => y(d[1])).curve(d3.curveCardinalClosed);
  p.rings.forEach(r => {
    g.append("path").attr("d", line(r)).attr("fill", "none")
      .attr("stroke", p.color).attr("stroke-width", 2.6);
  });

  // axes with inward ticks on all four sides
  const styleAxis = a => {
    a.select(".domain").remove();
    a.attr("font-family", tickFont).attr("font-size", 7.5).attr("color", "#222");
  };
  g.append("g").attr("transform", `translate(0,${p.bottom})`)
    .call(d3.axisBottom(x).tickValues(xTickValues).tickSizeInner(-4).tickSizeOuter(0).tickPadding(6).tickFormat(d => String(d)))
    .call(styleAxis)
    .call(a => a.selectAll(".tick text")
      .filter(d => x(d) + 7 > width)
      .attr("text-anchor", "end").attr("x", d => width - 1 - x(d)));
  g.append("g").attr("transform", `translate(0,${p.top})`)
    .call(d3.axisTop(x).tickValues(xTickValues).tickSizeInner(-4).tickSizeOuter(0).tickFormat(() => ""))
    .call(styleAxis);
  g.append("g").attr("transform", `translate(${p.left},0)`)
    .call(d3.axisLeft(y).tickValues(yTickValues).tickSizeInner(-4).tickSizeOuter(0).tickPadding(6).tickFormat(d => String(d)))
    .call(styleAxis);
  g.append("g").attr("transform", `translate(${p.right},0)`)
    .call(d3.axisRight(y).tickValues(yTickValues).tickSizeInner(-4).tickSizeOuter(0).tickFormat(() => ""))
    .call(styleAxis);

  // frame
  g.append("rect").attr("x", p.left).attr("y", p.top)
    .attr("width", p.right - p.left).attr("height", p.bottom - p.top)
    .attr("fill", "none").attr("stroke", "#111").attr("stroke-width", 1);

  // caption
  const t = svg.append("text").attr("x", p.capX).attr("y", p.capY)
    .attr("text-anchor", "middle")
    .attr("font-family", "'Liberation Serif', 'Times New Roman', serif")
    .attr("font-size", 24).attr("fill", "#000");
  p.caption.forEach(c => {
    const s = t.append("tspan").text(c.t);
    if (c.dx) s.attr("dx", c.dx);
    if (c.it) s.attr("font-style", "italic");
    if (c.sc) s.attr("font-size", 18);
  });
});
</script>
</body>
</html>
